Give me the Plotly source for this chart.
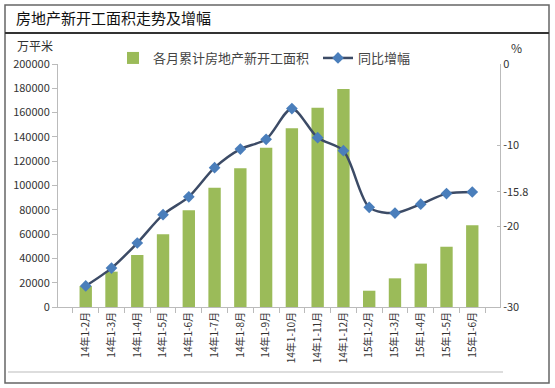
import plotly.graph_objects as go

categories = ["14年1-2月", "14年1-3月", "14年1-4月", "14年1-5月", "14年1-6月", "14年1-7月",
              "14年1-8月", "14年1-9月", "14年1-10月", "14年1-11月", "14年1-12月",
              "15年1-2月", "15年1-3月", "15年1-4月", "15年1-5月", "15年1-6月"]
area = [17300, 29100, 42800, 59800, 79600, 98200, 114100, 131100, 147100, 164000, 179400,
        13400, 23600, 35700, 49600, 67200]
growth = [-27.4, -25.2, -22.1, -18.6, -16.4, -12.8, -10.5, -9.3, -5.5, -9.1, -10.7,
          -17.7, -18.4, -17.3, -16.0, -15.8]
left_ticks = [0, 20000, 40000, 60000, 80000, 100000, 120000, 140000, 160000, 180000, 200000]
right_ticks = [0, -10, -15.8, -20, -30]
right_tick_text = ["0", "-10", "-15.8", "-20", "-30"]

W, H = 555, 388
L, R, T, B = 58, 55, 64, 81
PW, PH = W - L - R, H - T - B


def px(x):
    return (x - L) / PW


def py(y):
    return (H - B - y) / PH


FONT = "Noto Sans CJK SC, Microsoft YaHei, sans-serif"

fig = go.Figure()
fig.add_trace(go.Bar(x=categories, y=area, name="各月累计房地产新开工面积",
                     marker=dict(color="#9BBB59", line=dict(width=0)), yaxis="y"))
fig.add_trace(go.Scatter(x=categories, y=growth, name="同比增幅", yaxis="y2",
                         mode="lines+markers",
                         line=dict(color="#3C4B66", width=2.5, shape="spline", smoothing=0.8),
                         marker=dict(symbol="diamond", size=9, color="#4A7EBB")))

fig.update_layout(
    width=W, height=H,
    margin=dict(l=L, r=R, t=T, b=B),
    paper_bgcolor="white", plot_bgcolor="white",
    font=dict(family=FONT, size=11, color="#333"),
    bargap=0.52,
    showlegend=True,
    legend=dict(orientation="h", x=px(113), y=py(43), xanchor="left", yanchor="top",
                font=dict(size=13, color="#444"), itemwidth=30,
                entrywidth=160, entrywidthmode="pixels", bgcolor="rgba(0,0,0,0)"),
    xaxis=dict(showline=True, linecolor="#BBBBBB", linewidth=1, ticks="outside",
               tickson="boundaries", ticklen=5, tickcolor="#BBBBBB", tickangle=-90,
               tickfont=dict(size=10, color="#333"), showgrid=False),
    yaxis=dict(range=[0, 200000], tickvals=left_ticks, tickformat="d", showline=True,
               linecolor="#BBBBBB", ticks="outside", ticklen=5, tickcolor="#BBBBBB",
               showgrid=False, zeroline=False, tickfont=dict(size=11, color="#333")),
    yaxis2=dict(range=[-30, 0], overlaying="y", side="right", tickvals=right_ticks,
                ticktext=right_tick_text, showline=True, linecolor="#BBBBBB",
                ticks="inside", ticklen=3, tickcolor="#BBBBBB", showgrid=False, zeroline=False,
                tickfont=dict(size=11, color="#333")),
)

# frame and title decorations
fig.add_shape(type="rect", xref="paper", yref="paper", x0=px(5), x1=px(549), y0=py(383), y1=py(5),
              line=dict(color="#666", width=1.5), layer="below")
fig.add_shape(type="line", xref="paper", yref="paper", x0=px(5), x1=px(549), y0=py(33), y1=py(33),
              line=dict(color="#333", width=2))
fig.add_shape(type="line", xref="paper", yref="paper", x0=px(8), x1=px(503), y0=py(372), y1=py(372),
              line=dict(color="#BBBBBB", width=1))

fig.add_annotation(text="房地产新开工面积走势及增幅", xref="paper", yref="paper", x=px(14), y=py(18),
                   xanchor="left", yanchor="middle", showarrow=False,
                   font=dict(size=15, color="#111", family=FONT))
fig.add_annotation(text="万平米", xref="paper", yref="paper", x=px(35), y=py(46),
                   xanchor="center", yanchor="middle", showarrow=False,
                   font=dict(size=12, color="#333"))
fig.add_annotation(text="%", xref="paper", yref="paper", x=px(516), y=py(47),
                   xanchor="center", yanchor="middle", showarrow=False,
                   font=dict(size=12, color="#333"))

fig.write_html("out.html", config={"displayModeBar": False},
               post_script="document.body.style.margin='0';")
